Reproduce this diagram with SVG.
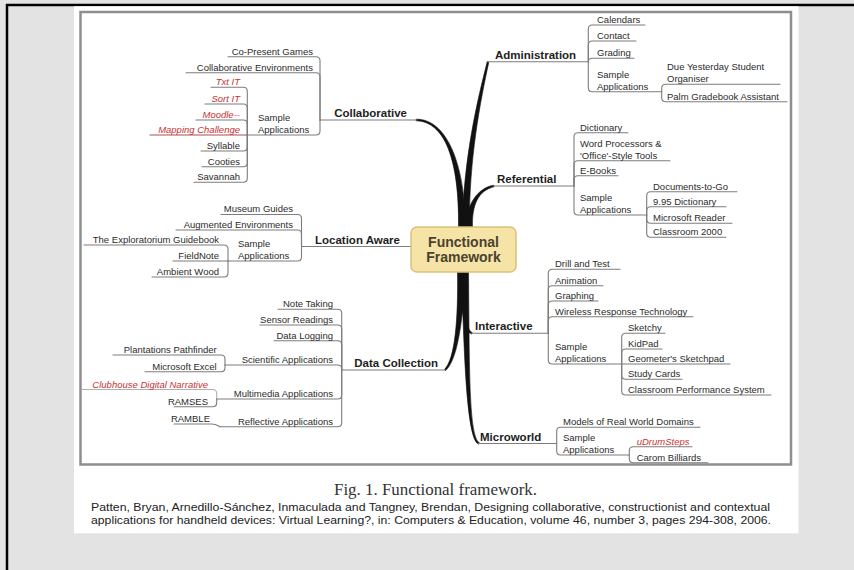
<svg xmlns="http://www.w3.org/2000/svg" width="854" height="570" viewBox="0 0 854 570">
<style>
.t{font-family:"Liberation Sans",Arial,sans-serif;font-size:9.5px;fill:#2b2b2b}
.rd{fill:#c83232;font-style:italic}
.b{font-family:"Liberation Sans",Arial,sans-serif;font-weight:bold;font-size:11.5px;fill:#1e1e1e}
.e{text-anchor:end}
.ln path{fill:none;stroke:#7d7d7d;stroke-width:1.1;stroke-linecap:round}
.st path{fill:#111;stroke:#111;stroke-width:0.6;stroke-linejoin:round}
.cit{font-family:"Liberation Sans",Arial,sans-serif;font-size:11px;fill:#222}
</style>
<rect width="854" height="570" fill="#e3e3e3"/>
<line x1="6" y1="5" x2="854" y2="5" stroke="#000" stroke-width="2.5"/>
<line x1="7" y1="4" x2="7" y2="570" stroke="#000" stroke-width="2.5"/>
<rect x="74" y="6.3" width="724.5" height="527" fill="#fff"/>
<rect x="80.5" y="12" width="710.5" height="452.5" fill="#fff" stroke="#8e8e8e" stroke-width="2.5"/>

<g id="connectors">
<g class="st">
<path d="M416,119.2 C445,118.5 464.8,160 465.5,227 L458.5,227 C459.2,160 445,121.5 416,120.8 Z"/>
<path d="M487.2,61.8 C477.5,99.7 463.2,160 462.5,227 L469.5,227 C468.8,160 480.5,100.3 488.8,62.2 Z"/>
<path d="M493.9,185.2 C477.7,187.5 466.2,205 465.5,227 L472.5,227 C471.8,205 478.3,190.5 494.1,186.8 Z"/>
<path d="M457.5,272 C458.2,320 455,358.9 444.5,369.4 L445.5,370.6 C457,361.1 463.8,320 464.5,272 Z"/>
<path d="M460.5,272 C461.2,315 464.5,332.4 471.8,334.1 L472.2,332.5 C465.5,329.6 466.8,315 467.5,272 Z"/>
<path d="M461.5,272 C464.5,370 467.3,439.3 478.6,444.2 L479.4,442.8 C468.7,436.7 469.5,370 468.5,272 Z"/>
</g>
<g class="ln">
<!-- Collaborative -->
<path d="M320,120 L417,120"/>
<path d="M320,120 L320,60.7 Q320,56.7 316,56.7 L228,56.7"/>
<path d="M320,120 L320,76.7 Q320,72.7 316,72.7 L186,72.7"/>
<path d="M320,120 L320,131 Q320,135 316,135 L247.3,135"/>
<path d="M247.3,135 L247.3,91.3 Q247.3,87.3 243.3,87.3 L211,87.3"/>
<path d="M247.3,135 L247.3,108 Q247.3,104 243.3,104 L205,104"/>
<path d="M247.3,135 L247.3,124 Q247.3,120 243.3,120 L196,120"/>
<path d="M247.3,135 L150,135" style="stroke:#a85050"/>
<path d="M247.3,135 L247.3,147 Q247.3,151 243.3,151 L201,151"/>
<path d="M247.3,135 L247.3,162.7 Q247.3,166.7 243.3,166.7 L202,166.7"/>
<path d="M247.3,135 L247.3,178.3 Q247.3,182.3 243.3,182.3 L194,182.3"/>
<!-- Administration -->
<path d="M487,61.7 L588.3,61.7"/>
<path d="M588.3,61.7 L588.3,29 Q588.3,25 592.3,25 L645,25"/>
<path d="M588.3,61.7 L588.3,45 Q588.3,41 592.3,41 L636,41"/>
<path d="M588.3,61.7 L588.3,62.3 Q588.3,58.3 592.3,58.3 L634,58.3"/>
<path d="M588.3,61.7 L588.3,87.7 Q588.3,91.7 592.3,91.7 L661.7,91.7"/>
<path d="M661.7,91.7 L661.7,88.3 Q661.7,84.3 665.7,84.3 L780,84.3"/>
<path d="M661.7,91.7 L661.7,97.7 Q661.7,101.7 665.7,101.7 L787,101.7"/>
<!-- Referential -->
<path d="M493,186 L574,186"/>
<path d="M574,186 L574,136.7 Q574,132.7 578,132.7 L628,132.7"/>
<path d="M574,186 L574,164.7 Q574,160.7 578,160.7 L670,160.7"/>
<path d="M574,186 L574,179.7 Q574,175.7 578,175.7 L618,175.7"/>
<path d="M574,186 L574,211 Q574,215 578,215 L646.7,215"/>
<path d="M646.7,215 L646.7,195.7 Q646.7,191.7 650.7,191.7 L737,191.7"/>
<path d="M646.7,215 L646.7,210.7 Q646.7,206.7 650.7,206.7 L726,206.7"/>
<path d="M646.7,215 L646.7,219.3 Q646.7,223.3 650.7,223.3 L732,223.3"/>
<path d="M646.7,215 L646.7,233.3 Q646.7,237.3 650.7,237.3 L726,237.3"/>
<!-- Location Aware -->
<path d="M301.5,246.5 L411,246.5"/>
<path d="M301.5,246.5 L301.5,218.5 Q301.5,214.5 297.5,214.5 L221,214.5"/>
<path d="M301.5,246.5 L301.5,234 Q301.5,230 297.5,230 L176,230"/>
<path d="M301.5,246.5 L301.5,257 Q301.5,261 297.5,261 L228,261"/>
<path d="M228,261 L228,249 Q228,245 224,245 L84,245"/>
<path d="M228,261 L173,261"/>
<path d="M228,261 L228,273 Q228,277 224,277 L152,277"/>
<!-- Data Collection -->
<path d="M341.7,370 L445,370"/>
<path d="M341.7,370 L341.7,313.3 Q341.7,309.3 337.7,309.3 L278,309.3"/>
<path d="M341.7,370 L341.7,329 Q341.7,325 337.7,325 L260,325"/>
<path d="M341.7,370 L341.7,344.7 Q341.7,340.7 337.7,340.7 L274,340.7"/>
<path d="M341.7,370 L341.7,369 Q341.7,365 337.7,365 L225,365"/>
<path d="M341.7,370 L341.7,395 Q341.7,399 337.7,399 L216.7,399"/>
<path d="M341.7,370 L341.7,422.7 Q341.7,426.7 337.7,426.7 L220,426.7"/>
<path d="M225,365 L225,359 Q225,355 221,355 L113,355"/>
<path d="M225,365 L225,367.7 Q225,371.7 221,371.7 L145,371.7"/>
<path d="M216.7,399 L216.7,393.5 Q216.7,389.5 212.7,389.5 L82,389.5" style="stroke:#b0b0b0"/>
<path d="M216.7,399 L216.7,402.7 Q216.7,406.7 212.7,406.7 L174,406.7"/>
<path d="M220,426.7 Q216,424 212,424 L174,424"/>
<!-- Interactive -->
<path d="M471,333.3 L548.3,333.3"/>
<path d="M548.3,333.3 L548.3,273.3 Q548.3,269.3 552.3,269.3 L620,269.3"/>
<path d="M548.3,333.3 L548.3,289.7 Q548.3,285.7 552.3,285.7 L603,285.7"/>
<path d="M548.3,333.3 L548.3,305 Q548.3,301 552.3,301 L598,301"/>
<path d="M548.3,333.3 L548.3,320.7 Q548.3,316.7 552.3,316.7 L693,316.7"/>
<path d="M548.3,333.3 L548.3,360 Q548.3,364 552.3,364 L621.7,364"/>
<path d="M621.7,364 L621.7,337.3 Q621.7,333.3 625.7,333.3 L665,333.3"/>
<path d="M621.7,364 L621.7,353 Q621.7,349 625.7,349 L662,349"/>
<path d="M621.7,364 L730,364"/>
<path d="M621.7,364 L621.7,375.3 Q621.7,379.3 625.7,379.3 L682,379.3"/>
<path d="M621.7,364 L621.7,391 Q621.7,395 625.7,395 L771,395"/>
<!-- Microworld -->
<path d="M478,443.5 L556.7,443.5"/>
<path d="M556.7,443.5 L556.7,431.3 Q556.7,427.3 560.7,427.3 L700,427.3"/>
<path d="M556.7,443.5 L556.7,451 Q556.7,455 560.7,455 L629.3,455"/>
<path d="M629.3,455 L629.3,450.7 Q629.3,446.7 633.3,446.7 L692,446.7"/>
<path d="M629.3,455 L629.3,458.7 Q629.3,462.7 633.3,462.7 L708,462.7"/>
</g>
</g>

<g id="n-center">
<rect x="411" y="227" width="105" height="45" rx="6" fill="#f6e4a6" stroke="#d8c27e" stroke-width="1.5"/>
<text x="463.5" y="246.5" text-anchor="middle" style="font-family:'Liberation Sans',Arial,sans-serif;font-weight:bold;font-size:14px;fill:#4a4230">Functional</text>
<text x="463.5" y="261.5" text-anchor="middle" style="font-family:'Liberation Sans',Arial,sans-serif;font-weight:bold;font-size:14px;fill:#4a4230">Framework</text>
</g>

<g id="n-collaborative"><text class="b e" x="407" y="117">Collaborative</text></g>
<g id="n-copresent"><text class="t e" x="313" y="54.5">Co-Present Games</text></g>
<g id="n-collabenv"><text class="t e" x="313" y="70.5">Collaborative Environments</text></g>
<g id="n-collab-sample"><text class="t" x="258" y="121.1">Sample</text><text class="t" x="258" y="132.8">Applications</text></g>
<g id="n-txtit"><text class="t rd e" x="240" y="85.1">Txt IT</text></g>
<g id="n-sortit"><text class="t rd e" x="240" y="101.8">Sort IT</text></g>
<g id="n-moodle"><text class="t rd e" x="240" y="117.8">Moodle--</text></g>
<g id="n-mapping"><text class="t rd e" x="240" y="132.8">Mapping Challenge</text></g>
<g id="n-syllable"><text class="t e" x="240" y="148.8">Syllable</text></g>
<g id="n-cooties"><text class="t e" x="240" y="164.5">Cooties</text></g>
<g id="n-savannah"><text class="t e" x="240" y="180.1">Savannah</text></g>

<g id="n-administration"><text class="b" x="495" y="58.7">Administration</text></g>
<g id="n-calendars"><text class="t" x="597" y="22.8">Calendars</text></g>
<g id="n-contact"><text class="t" x="597" y="38.8">Contact</text></g>
<g id="n-grading"><text class="t" x="597" y="56.1">Grading</text></g>
<g id="n-admin-sample"><text class="t" x="597" y="77.8">Sample</text><text class="t" x="597" y="89.5">Applications</text></g>
<g id="n-dueyesterday"><text class="t" x="667" y="70.4">Due Yesterday Student</text><text class="t" x="667" y="82.1">Organiser</text></g>
<g id="n-palm"><text class="t" x="667" y="99.5">Palm Gradebook Assistant</text></g>

<g id="n-referential"><text class="b" x="497" y="183">Referential</text></g>
<g id="n-dictionary"><text class="t" x="580" y="130.5">Dictionary</text></g>
<g id="n-wordproc"><text class="t" x="580" y="146.8">Word Processors &amp;</text><text class="t" x="580" y="158.5">'Office'-Style Tools</text></g>
<g id="n-ebooks"><text class="t" x="580" y="173.5">E-Books</text></g>
<g id="n-ref-sample"><text class="t" x="580" y="201.1">Sample</text><text class="t" x="580" y="212.8">Applications</text></g>
<g id="n-docstogo"><text class="t" x="653" y="189.5">Documents-to-Go</text></g>
<g id="n-995dict"><text class="t" x="653" y="204.5">9.95 Dictionary</text></g>
<g id="n-msreader"><text class="t" x="653" y="221.1">Microsoft Reader</text></g>
<g id="n-classroom2000"><text class="t" x="653" y="235.1">Classroom 2000</text></g>

<g id="n-location"><text class="b e" x="400" y="243.5">Location Aware</text></g>
<g id="n-museum"><text class="t e" x="293" y="212.3">Museum Guides</text></g>
<g id="n-augmented"><text class="t e" x="293" y="227.8">Augmented Environments</text></g>
<g id="n-loc-sample"><text class="t" x="238" y="247.1">Sample</text><text class="t" x="238" y="258.8">Applications</text></g>
<g id="n-exploratorium"><text class="t e" x="219" y="242.8">The Exploratorium Guidebook</text></g>
<g id="n-fieldnote"><text class="t e" x="219" y="258.8">FieldNote</text></g>
<g id="n-ambient"><text class="t e" x="219" y="274.8">Ambient Wood</text></g>

<g id="n-datacollection"><text class="b e" x="438" y="367">Data Collection</text></g>
<g id="n-notetaking"><text class="t e" x="333" y="307.1">Note Taking</text></g>
<g id="n-sensor"><text class="t e" x="333" y="322.8">Sensor Readings</text></g>
<g id="n-datalogging"><text class="t e" x="333" y="338.5">Data Logging</text></g>
<g id="n-scientific"><text class="t e" x="333" y="362.8">Scientific Applications</text></g>
<g id="n-plantations"><text class="t e" x="216.7" y="352.8">Plantations Pathfinder</text></g>
<g id="n-excel"><text class="t e" x="216.7" y="369.5">Microsoft Excel</text></g>
<g id="n-multimedia"><text class="t e" x="333" y="396.8">Multimedia Applications</text></g>
<g id="n-clubhouse"><text class="t rd e" x="208" y="387.5">Clubhouse Digital Narrative</text></g>
<g id="n-ramses"><text class="t e" x="208" y="404.5">RAMSES</text></g>
<g id="n-reflective"><text class="t e" x="333" y="424.5">Reflective Applications</text></g>
<g id="n-ramble"><text class="t e" x="210" y="421.8">RAMBLE</text></g>

<g id="n-interactive"><text class="b" x="475" y="330.3">Interactive</text></g>
<g id="n-drill"><text class="t" x="555" y="267.1">Drill and Test</text></g>
<g id="n-animation"><text class="t" x="555" y="283.5">Animation</text></g>
<g id="n-graphing"><text class="t" x="555" y="298.8">Graphing</text></g>
<g id="n-wireless"><text class="t" x="555" y="314.5">Wireless Response Technology</text></g>
<g id="n-int-sample"><text class="t" x="555" y="350.1">Sample</text><text class="t" x="555" y="361.8">Applications</text></g>
<g id="n-sketchy"><text class="t" x="628" y="331.1">Sketchy</text></g>
<g id="n-kidpad"><text class="t" x="628" y="346.8">KidPad</text></g>
<g id="n-geometer"><text class="t" x="628" y="361.8">Geometer's Sketchpad</text></g>
<g id="n-studycards"><text class="t" x="628" y="377.1">Study Cards</text></g>
<g id="n-cps"><text class="t" x="628" y="392.8">Classroom Performance System</text></g>

<g id="n-microworld"><text class="b" x="480" y="440.5">Microworld</text></g>
<g id="n-models"><text class="t" x="563" y="425.1">Models of Real World Domains</text></g>
<g id="n-micro-sample"><text class="t" x="563" y="441">Sample</text><text class="t" x="563" y="452.7">Applications</text></g>
<g id="n-udrum"><text class="t rd" x="636.7" y="444.5">uDrumSteps</text></g>
<g id="n-carom"><text class="t" x="636.7" y="460.5">Carom Billiards</text></g>

<g id="caption">
<text x="334" y="494.5" textLength="203" lengthAdjust="spacingAndGlyphs" style="font-family:'Liberation Serif','Times New Roman',serif;font-size:16px;fill:#333">Fig. 1.  Functional framework.</text>
<text class="cit" x="91" y="511" textLength="679" lengthAdjust="spacingAndGlyphs">Patten, Bryan, Arnedillo-Sánchez, Inmaculada and Tangney, Brendan, Designing collaborative, constructionist and contextual</text>
<text class="cit" x="91" y="523.5" textLength="680" lengthAdjust="spacingAndGlyphs">applications for handheld devices: Virtual Learning?, in: Computers &amp; Education, volume 46, number 3, pages 294-308, 2006.</text>
</g>
</svg>
